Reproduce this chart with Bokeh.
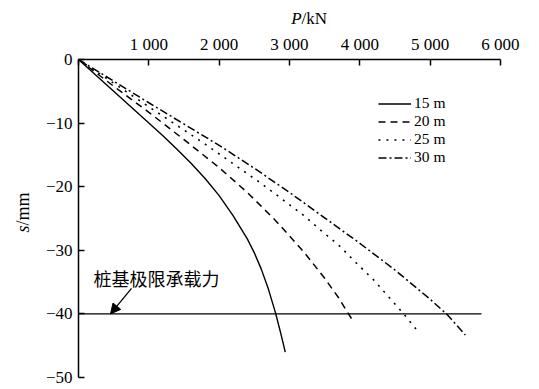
import math
from bokeh.plotting import figure
from bokeh.models import (Range1d, FixedTicker, Label, Arrow, NormalHead,
                          Legend, LegendItem, LinearAxis)
from bokeh.embed import file_html
from bokeh.resources import INLINE

# ---- data ----
P_15 = [0, 500, 1000, 1200, 1400, 1600, 1800, 2000, 2200, 2400, 2500, 2600, 2700, 2800, 2870, 2940]
s_15 = [0, -5, -10, -12.0, -14.1, -16.3, -18.7, -21.4, -24.6, -28.2, -30.4, -33.0, -36.1, -39.8, -42.8, -46.0]

P_20 = [0, 500, 1000, 1500, 2000, 2400, 2800, 3200, 3500, 3700, 3850, 3910]
s_20 = [0, -4.2, -8.3, -12.6, -17.0, -20.9, -25.3, -30.2, -34.4, -37.5, -40.2, -41.2]

P_25 = [0, 900, 1800, 2200, 2600, 2900, 3200, 3450, 3700, 3950, 4200, 4400, 4600, 4720, 4830]
s_25 = [0, -6.7, -13.3, -16.4, -19.5, -22.0, -24.5, -26.9, -29.2, -32.0, -34.7, -37.2, -39.7, -41.3, -42.8]

P_30 = [0, 1000, 2000, 2500, 3000, 3500, 4000, 4500, 5000, 5250, 5500]
s_30 = [0, -6.8, -13.5, -17.1, -20.9, -24.9, -28.9, -33.1, -37.7, -40.2, -43.3]

series_names = ["15 m", "20 m", "25 m", "30 m"]

limit_P = [0, 5730]
limit_s = [-40, -40]
limit_text = "桩基极限承载力"

x_ticks = [0, 1000, 2000, 3000, 4000, 5000, 6000]
x_tick_labels = ["", "1 000", "2 000", "3 000", "4 000", "5 000", "6 000"]
y_ticks = [-50, -40, -30, -20, -10, 0]
y_tick_labels = ["\u221250", "\u221240", "\u221230", "\u221220", "\u221210", "0"]

SERIF = "Liberation Serif"

W, H = 539, 389
X0, KX = 78.0, 0.070333     # page px of P=0, px per kN
Y0, KY = 59.0, 6.36         # page px of s=0, px per mm

p = figure(width=W, height=H,
           x_range=Range1d(-X0 / KX, (W - X0) / KX),
           y_range=Range1d(-(H - Y0) / KY, Y0 / KY),
           x_axis_location=None, y_axis_location=None,
           output_backend="svg", toolbar_location=None,
           min_border_left=0, min_border_right=0,
           min_border_top=0, min_border_bottom=0)
p.outline_line_color = None
p.grid.grid_line_color = None
p.background_fill_color = "white"
p.border_fill_color = "white"

xax = LinearAxis(fixed_location=0, bounds=(0, 6000),
                 ticker=FixedTicker(ticks=x_ticks),
                 major_label_overrides=dict(zip(x_ticks, x_tick_labels)))
yax = LinearAxis(fixed_location=0, bounds=(-50, 0),
                 ticker=FixedTicker(ticks=y_ticks),
                 major_label_overrides=dict(zip(y_ticks, y_tick_labels)))
for ax in (xax, yax):
    ax.axis_line_color = "black"
    ax.axis_line_width = 1.5
    ax.major_tick_line_color = "black"
    ax.major_tick_line_width = 1.5
    ax.major_tick_in = 6
    ax.major_tick_out = 0
    ax.minor_tick_line_color = None
    ax.major_label_text_font = SERIF
    ax.major_label_text_font_size = "17px"
    ax.major_label_text_color = "black"
    ax.major_label_standoff = 6
p.add_layout(xax, "above")
p.add_layout(yax, "left")

r15 = p.line(P_15, s_15, line_color="black", line_width=1.4)
r20 = p.line(P_20, s_20, line_color="black", line_width=1.5, line_dash="7 5")
r25 = p.line(P_25, s_25, line_color="black", line_width=1.6, line_dash="2 6")
r30 = p.line(P_30, s_30, line_color="black", line_width=1.5, line_dash="8 3 2 3")

p.line(limit_P, limit_s, line_color="black", line_width=1.1)

legend = Legend(items=[LegendItem(label=n, renderers=[r]) for n, r in
                       zip(series_names, [r15, r20, r25, r30])],
                location=(378, 223), orientation="vertical",
                padding=0, margin=0, spacing=0,
                glyph_width=33, glyph_height=15, label_height=15,
                label_standoff=3,
                label_text_font=SERIF, label_text_font_size="15.5px",
                label_text_color="black",
                border_line_color=None, background_fill_alpha=0)
p.add_layout(legend)

# axis titles
common = dict(text_font=SERIF, text_color="black", text_baseline="middle")
p.add_layout(Label(x=3171, y=6.45, text="P", text_font_style="italic",
                   text_font_size="17px", text_align="right", **common))
p.add_layout(Label(x=3171, y=6.45, text="/kN",
                   text_font_size="17px", text_align="left", **common))
p.add_layout(Label(x=-796, y=-26.1, text="s", text_font_style="italic",
                   text_font_size="18px", text_align="right",
                   angle=math.pi / 2, **common))
p.add_layout(Label(x=-796, y=-26.1, text="/mm",
                   text_font_size="18px", text_align="left",
                   angle=math.pi / 2, **common))

# annotation
p.add_layout(Label(x=213, y=-34.3, text=limit_text, text_font="Noto Sans CJK SC",
                   text_color="black",
                   text_font_size="18px", text_align="left", text_baseline="middle"))
p.add_layout(Arrow(x_start=754, y_start=-36.0, x_end=455, y_end=-40.0,
                   line_color="black", line_width=1.3,
                   end=NormalHead(size=10, fill_color="black", line_color="black")))

open("out.html", "w").write(file_html(p, INLINE))
